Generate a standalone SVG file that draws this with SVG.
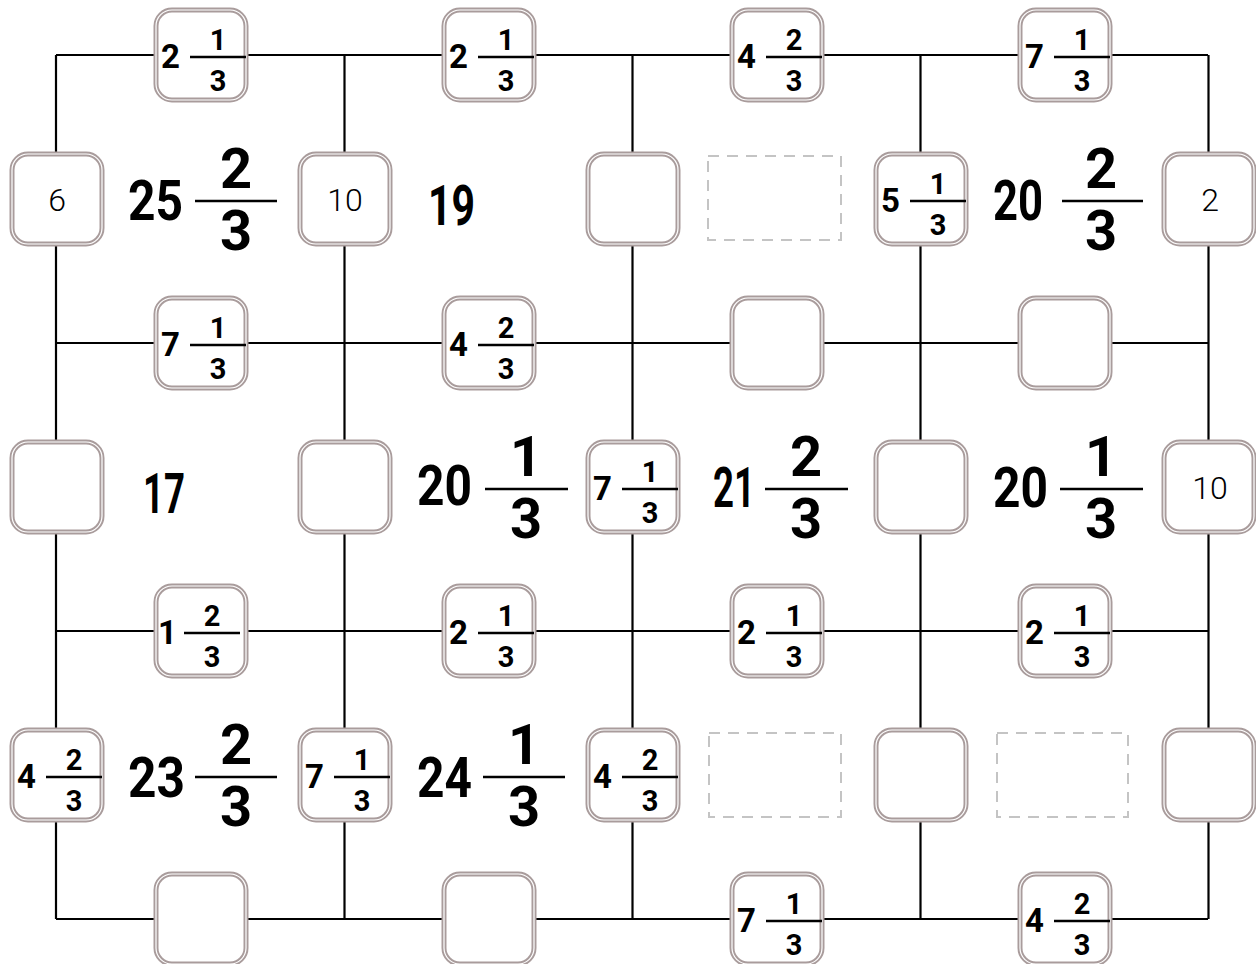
<svg xmlns="http://www.w3.org/2000/svg" xmlns:xlink="http://www.w3.org/1999/xlink" width="1256" height="964" viewBox="0 0 1256 964">
<style>
.ln{stroke:#000;stroke-width:2.2;fill:none}
.bo{fill:#fff;stroke:#a99c9c;stroke-width:5}
.bi{fill:none;stroke:#fff;stroke-width:1.2}
.dash{fill:none;stroke:#c4c4c4;stroke-width:2;stroke-dasharray:11 8}
.bar{stroke:#000;stroke-width:2.5}
.sw{font-family:Roboto,"Liberation Sans",sans-serif;font-weight:700;font-size:33px;fill:#000;text-anchor:end}
.sf{font-family:Roboto,"Liberation Sans",sans-serif;font-weight:700;font-size:29px;fill:#000;text-anchor:middle}
.lw{font-family:Roboto,"Liberation Sans",sans-serif;font-weight:700;font-size:56px;fill:#000}
.lf{font-family:Roboto,"Liberation Sans",sans-serif;font-weight:700;font-size:56px;fill:#000;text-anchor:middle}
.th{font-family:Roboto,"Liberation Sans",sans-serif;font-weight:300;font-size:32px;fill:#000;text-anchor:middle}
</style>
<defs>
<g id="box"><rect class="bo" x="-45" y="-45" width="90" height="90" rx="16"/><rect class="bi" x="-45" y="-45" width="90" height="90" rx="16"/></g>
</defs>
<rect width="1256" height="964" fill="#fff"/>
<g id="connectors">
<path class="ln" d="M56 55H1208M56 343H1208M56 631H1208M56 919H1208"/>
<path class="ln" d="M56 55V919M344.5 55V919M632.5 55V919M920.5 55V919M1208.5 55V919"/>
</g>
<g id="n-h0-0"><use xlink:href="#box" x="201" y="55"/><text class="sw" x="180" y="68">2</text><line class="bar" x1="190" y1="57" x2="246" y2="57"/><text class="sf" x="218" y="50">1</text><text class="sf" x="218" y="91">3</text></g>
<g id="n-h0-1"><use xlink:href="#box" x="489" y="55"/><text class="sw" x="468" y="68">2</text><line class="bar" x1="478" y1="57" x2="534" y2="57"/><text class="sf" x="506" y="50">1</text><text class="sf" x="506" y="91">3</text></g>
<g id="n-h0-2"><use xlink:href="#box" x="777" y="55"/><text class="sw" x="756" y="68">4</text><line class="bar" x1="766" y1="57" x2="822" y2="57"/><text class="sf" x="794" y="50">2</text><text class="sf" x="794" y="91">3</text></g>
<g id="n-h0-3"><use xlink:href="#box" x="1065" y="55"/><text class="sw" x="1044" y="68">7</text><line class="bar" x1="1054" y1="57" x2="1110" y2="57"/><text class="sf" x="1082" y="50">1</text><text class="sf" x="1082" y="91">3</text></g>
<g id="n-v0-0"><use xlink:href="#box" x="57" y="199"/><text class="th" x="57" y="211">6</text></g>
<g id="n-v0-1"><use xlink:href="#box" x="345" y="199"/><text class="th" x="345" y="211">10</text></g>
<g id="n-v0-2"><use xlink:href="#box" x="633" y="199"/></g>
<g id="n-v0-3"><use xlink:href="#box" x="921" y="199"/><text class="sw" x="900" y="212">5</text><line class="bar" x1="910" y1="201" x2="966" y2="201"/><text class="sf" x="938" y="194">1</text><text class="sf" x="938" y="235">3</text></g>
<g id="n-v0-4"><use xlink:href="#box" x="1209" y="199"/><text class="th" x="1210" y="211">2</text></g>
<g id="n-h1-0"><use xlink:href="#box" x="201" y="343"/><text class="sw" x="180" y="356">7</text><line class="bar" x1="190" y1="345" x2="246" y2="345"/><text class="sf" x="218" y="338">1</text><text class="sf" x="218" y="379">3</text></g>
<g id="n-h1-1"><use xlink:href="#box" x="489" y="343"/><text class="sw" x="468" y="356">4</text><line class="bar" x1="478" y1="345" x2="534" y2="345"/><text class="sf" x="506" y="338">2</text><text class="sf" x="506" y="379">3</text></g>
<g id="n-h1-2"><use xlink:href="#box" x="777" y="343"/></g>
<g id="n-h1-3"><use xlink:href="#box" x="1065" y="343"/></g>
<g id="n-v1-0"><use xlink:href="#box" x="57" y="487"/></g>
<g id="n-v1-1"><use xlink:href="#box" x="345" y="487"/></g>
<g id="n-v1-2"><use xlink:href="#box" x="633" y="487"/><text class="sw" x="612" y="500">7</text><line class="bar" x1="622" y1="489" x2="678" y2="489"/><text class="sf" x="650" y="482">1</text><text class="sf" x="650" y="523">3</text></g>
<g id="n-v1-3"><use xlink:href="#box" x="921" y="487"/></g>
<g id="n-v1-4"><use xlink:href="#box" x="1209" y="487"/><text class="th" x="1210" y="499">10</text></g>
<g id="n-h2-0"><use xlink:href="#box" x="201" y="631"/><text class="sw" x="177" y="644">1</text><line class="bar" x1="184" y1="633" x2="240" y2="633"/><text class="sf" x="212" y="626">2</text><text class="sf" x="212" y="667">3</text></g>
<g id="n-h2-1"><use xlink:href="#box" x="489" y="631"/><text class="sw" x="468" y="644">2</text><line class="bar" x1="478" y1="633" x2="534" y2="633"/><text class="sf" x="506" y="626">1</text><text class="sf" x="506" y="667">3</text></g>
<g id="n-h2-2"><use xlink:href="#box" x="777" y="631"/><text class="sw" x="756" y="644">2</text><line class="bar" x1="766" y1="633" x2="822" y2="633"/><text class="sf" x="794" y="626">1</text><text class="sf" x="794" y="667">3</text></g>
<g id="n-h2-3"><use xlink:href="#box" x="1065" y="631"/><text class="sw" x="1044" y="644">2</text><line class="bar" x1="1054" y1="633" x2="1110" y2="633"/><text class="sf" x="1082" y="626">1</text><text class="sf" x="1082" y="667">3</text></g>
<g id="n-v2-0"><use xlink:href="#box" x="57" y="775"/><text class="sw" x="36" y="788">4</text><line class="bar" x1="46" y1="777" x2="102" y2="777"/><text class="sf" x="74" y="770">2</text><text class="sf" x="74" y="811">3</text></g>
<g id="n-v2-1"><use xlink:href="#box" x="345" y="775"/><text class="sw" x="324" y="788">7</text><line class="bar" x1="334" y1="777" x2="390" y2="777"/><text class="sf" x="362" y="770">1</text><text class="sf" x="362" y="811">3</text></g>
<g id="n-v2-2"><use xlink:href="#box" x="633" y="775"/><text class="sw" x="612" y="788">4</text><line class="bar" x1="622" y1="777" x2="678" y2="777"/><text class="sf" x="650" y="770">2</text><text class="sf" x="650" y="811">3</text></g>
<g id="n-v2-3"><use xlink:href="#box" x="921" y="775"/></g>
<g id="n-v2-4"><use xlink:href="#box" x="1209" y="775"/></g>
<g id="n-h3-0"><use xlink:href="#box" x="201" y="919"/></g>
<g id="n-h3-1"><use xlink:href="#box" x="489" y="919"/></g>
<g id="n-h3-2"><use xlink:href="#box" x="777" y="919"/><text class="sw" x="756" y="932">7</text><line class="bar" x1="766" y1="921" x2="822" y2="921"/><text class="sf" x="794" y="914">1</text><text class="sf" x="794" y="955">3</text></g>
<g id="n-h3-3"><use xlink:href="#box" x="1065" y="919"/><text class="sw" x="1044" y="932">4</text><line class="bar" x1="1054" y1="921" x2="1110" y2="921"/><text class="sf" x="1082" y="914">2</text><text class="sf" x="1082" y="955">3</text></g>
<g id="c-0-0"><text class="lw" x="128" y="220" textLength="55" lengthAdjust="spacingAndGlyphs">25</text><line class="bar" x1="195" y1="201" x2="277" y2="201"/><text class="lf" x="236" y="188">2</text><text class="lf" x="236" y="250">3</text></g>
<g id="c-0-1"><text class="lw" x="428" y="225" textLength="47" lengthAdjust="spacingAndGlyphs">19</text></g>
<g id="c-0-2"><rect class="dash" x="708" y="156" width="133" height="84"/></g>
<g id="c-0-3"><text class="lw" x="993" y="220" textLength="50" lengthAdjust="spacingAndGlyphs">20</text><line class="bar" x1="1062" y1="201" x2="1143" y2="201"/><text class="lf" x="1101" y="188">2</text><text class="lf" x="1101" y="250">3</text></g>
<g id="c-1-0"><text class="lw" x="143" y="513" textLength="42" lengthAdjust="spacingAndGlyphs">17</text></g>
<g id="c-1-1"><text class="lw" x="417" y="505" textLength="55" lengthAdjust="spacingAndGlyphs">20</text><line class="bar" x1="485" y1="489" x2="568" y2="489"/><text class="lf" x="526" y="476">1</text><text class="lf" x="526" y="538">3</text></g>
<g id="c-1-2"><text class="lw" x="713" y="507" textLength="42" lengthAdjust="spacingAndGlyphs">21</text><line class="bar" x1="765" y1="489" x2="848" y2="489"/><text class="lf" x="806" y="476">2</text><text class="lf" x="806" y="538">3</text></g>
<g id="c-1-3"><text class="lw" x="993" y="507" textLength="55" lengthAdjust="spacingAndGlyphs">20</text><line class="bar" x1="1060" y1="489" x2="1143" y2="489"/><text class="lf" x="1101" y="476">1</text><text class="lf" x="1101" y="538">3</text></g>
<g id="c-2-0"><text class="lw" x="128" y="797" textLength="57" lengthAdjust="spacingAndGlyphs">23</text><line class="bar" x1="195" y1="777" x2="277" y2="777"/><text class="lf" x="236" y="764">2</text><text class="lf" x="236" y="826">3</text></g>
<g id="c-2-1"><text class="lw" x="417" y="797" textLength="55" lengthAdjust="spacingAndGlyphs">24</text><line class="bar" x1="483" y1="777" x2="565" y2="777"/><text class="lf" x="524" y="764">1</text><text class="lf" x="524" y="826">3</text></g>
<g id="c-2-2"><rect class="dash" x="709" y="733" width="132" height="84"/></g>
<g id="c-2-3"><rect class="dash" x="997" y="733" width="131" height="84"/></g>
</svg>
